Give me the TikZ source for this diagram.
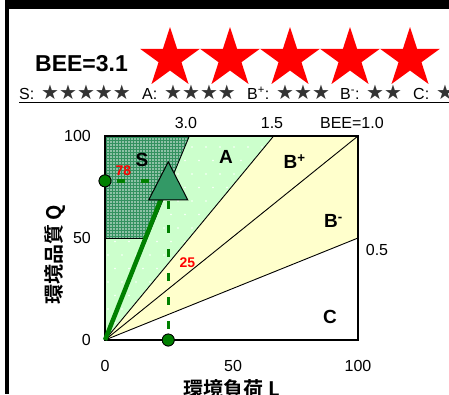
\documentclass[tikz,border=0pt]{standalone}
\usepackage{fontspec}
\setmainfont{Liberation Sans}
\newfontfamily\jpfont{Noto Sans CJK JP}[BoldFont={Noto Sans CJK JP Bold}]
\newfontfamily\symfont{DejaVu Sans}
\usetikzlibrary{shapes.geometric,patterns}
\pgfdeclarepatternformonly{densedots}{\pgfqpoint{-1pt}{-1pt}}{\pgfqpoint{1pt}{1pt}}{\pgfqpoint{3pt}{3pt}}{%
  \pgfpathcircle{\pgfqpoint{0pt}{0pt}}{0.8pt}\pgfusepath{fill}}
\definecolor{sgreen}{HTML}{33915F}
\definecolor{agreen}{HTML}{CCFFCC}
\definecolor{byellow}{HTML}{FFFFCC}
\definecolor{dkgreen}{HTML}{008000}
\definecolor{trigreen}{HTML}{339966}
\definecolor{stargray}{HTML}{333333}
\tikzset{
  bigstar/.style={star,star points=5,star point ratio=2.618,minimum size=63pt,inner sep=0pt,fill=red,draw=none},
  numlbl/.style={font=\fontsize{16}{16}\selectfont,inner sep=0pt},
  reglbl/.style={font=\fontsize{19}{19}\selectfont\bfseries,inner sep=0pt},
  redlbl/.style={font=\fontsize{14}{14}\selectfont\bfseries,text=red,inner sep=0pt},
  leglbl/.style={font=\fontsize{16}{16}\selectfont,inner sep=0pt,anchor=base west},
  legstar/.style={font=\symfont\fontsize{20}{20}\selectfont,text=stargray,inner sep=0pt,anchor=base west},
  dot/.style={circle,minimum size=12pt,inner sep=0pt,fill=dkgreen,draw=black,line width=0.8pt},
  gdash/.style={draw=dkgreen,line width=3.5pt,dash pattern=on 8pt off 16pt},
  thin/.style={draw=black,line width=0.9pt},
  jplbl/.style={font=\jpfont\bfseries\fontsize{20}{20}\selectfont,inner sep=0pt}
}
\begin{document}
\begin{tikzpicture}[x=1pt,y=-1pt]
\useasboundingbox (0,0) rectangle (449,394);
\fill[white] (0,0) rectangle (449,394);
% frame bars
\fill[black] (5,0) rectangle (449,9);
\fill[black] (5,0) rectangle (9,394);
% rating
\node[font=\fontsize{23}{23}\selectfont\bfseries,inner sep=0pt] (bee) at (81.5,63.5) {BEE=3.1};
\foreach \i in {0,...,4} \node[bigstar] (star\i) at (170+60*\i,58.5) {};
% legend
\node[leglbl] (lS) at (19,99.5) {S:};
\node[legstar] (sS) at (41,99.5) {★★★★★};
\node[leglbl] (lA) at (142,99.5) {A:};
\node[legstar] (sA) at (164,99.5) {★★★★};
\node[leglbl] (lBp) at (247,99.5) {B\textsuperscript{+}:};
\node[legstar] (sBp) at (276,99.5) {★★★};
\node[leglbl] (lBm) at (340,99.5) {B\textsuperscript{-}:};
\node[legstar] (sBm) at (366,99.5) {★★};
\node[leglbl] (lC) at (413,99.5) {C:};
\node[legstar] (sC) at (436,99.5) {★};
\draw[line width=1pt] (19,102) -- (449,102);
% chart
\begin{scope}[shift={(105pt,-340pt)},x=2.53pt,y=2.04pt]
  \coordinate (O) at (0,0);
  % A region
  \fill[agreen] (0,0) -- (0,100) -- (66.667,100) -- cycle;
  \begin{scope}
    \clip (0,0) -- (0,100) -- (66.667,100) -- cycle;
    \foreach \i in {0,...,13} \foreach \j in {0,...,15} {
      \fill[white] ({\i*14pt+mod(\j,2)*7pt+3pt},{\j*13.5pt+4pt}) circle (0.9pt);
    }
  \end{scope}
  % B region
  \fill[byellow] (0,0) -- (66.667,100) -- (100,100) -- (100,50) -- cycle;
  % S region
  \fill[sgreen] (0,50) -- (0,100) -- (33.333,100) -- (16.667,50) -- cycle;
  \fill[pattern=densedots,pattern color=white!90!sgreen] (0,50) -- (0,100) -- (33.333,100) -- (16.667,50) -- cycle;
  % lines
  \draw[thin] (0,50) -- (16.667,50);
  \draw[thin] (O) -- (33.333,100);
  \draw[thin] (O) -- (66.667,100);
  \draw[thin] (O) -- (100,100);
  \draw[thin] (O) -- (100,50);
  \draw[black,line width=1.3pt] (0,0) rectangle (100,100);
  % point
  \coordinate (P) at (25,78);
  \node[dot] (qdot) at (0,78) {};
  \node[dot] (ldot) at (25,0) {};
  \draw[gdash,dash phase=-6pt] (qdot.east) -- (P);
  \draw[gdash,dash phase=-20pt] (P) -- (ldot.north);
  \draw[dkgreen,line width=4.5pt] (O) -- (P);
  \path[fill=trigreen,draw=black,line width=1pt] (P) +(0pt,19pt) -- +(-19.5pt,-19pt) -- +(19.5pt,-19pt) -- cycle;
  \node[dot] at (0,78) {};
  \node[dot] at (25,0) {};
  \node[redlbl] (v78) at (7.3,83) {78};
  \node[redlbl] (v25) at (32.6,37.7) {25};
  % region labels
  \node[reglbl] (tS) at (14.6,88.2) {S};
  \node[reglbl] (tA) at (47.8,89.7) {A};
  \node[reglbl,anchor=base west] (tBp) at (70.5,84) {B\textsuperscript{+}};
  \node[reglbl,anchor=base west] (tBm) at (86.5,55) {B\textsuperscript{-}};
  \node[reglbl] (tC) at (88.9,11.3) {C};
  % axis numbers
  \node[numlbl,anchor=east] (y100) at (-5.5,100) {100};
  \node[numlbl,anchor=east] (y50) at (-5.5,50) {50};
  \node[numlbl,anchor=east] (y0) at (-5.5,0) {0};
  \node[numlbl] (x0) at (0,-12.7) {0};
  \node[numlbl] (x50) at (50.6,-12.7) {50};
  \node[numlbl] (x100) at (100,-12.7) {100};
  \node[numlbl] (l30) at (32,106.3) {3.0};
  \node[numlbl] (l15) at (66,106.3) {1.5};
  \node[numlbl] (l10) at (97.6,106.3) {BEE=1.0};
  \node[numlbl] (l05) at (107.5,44.1) {0.5};
\end{scope}
% axis titles
\node[jplbl,rotate=90] (ytitle) at (55,255) {環境品質 Q};
\node[jplbl] (xtitle) at (232,389) {環境負荷 L};
\end{tikzpicture}
\end{document}
